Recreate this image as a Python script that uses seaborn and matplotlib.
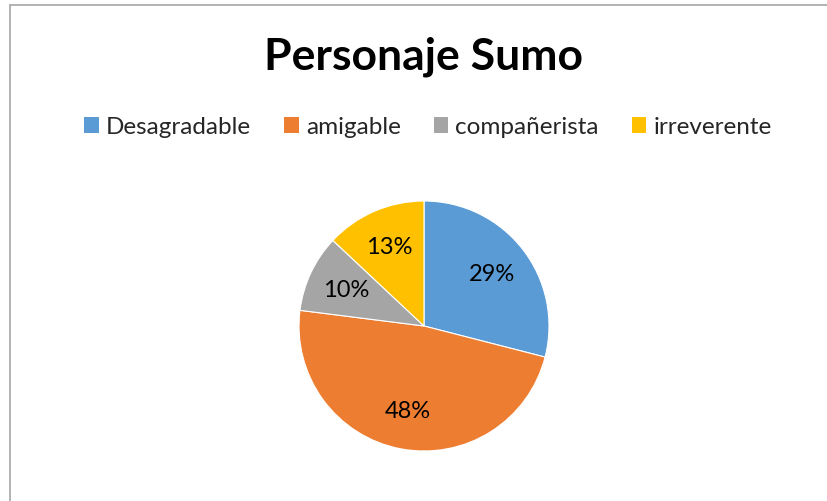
import matplotlib
matplotlib.use("Agg")
import matplotlib.pyplot as plt
import seaborn as sns
from matplotlib.lines import Line2D
from matplotlib.patches import Patch

categorias = ['Desagradable', 'amigable', 'compañerista', 'irreverente']
valores = [29, 48, 10, 13]
colores = ['#5B9BD5', '#ED7D31', '#A5A5A5', '#FFC000']

sns.set_theme(style='white')
plt.rcParams['font.family'] = ['Lato', 'DejaVu Sans']

W, H = 828, 502
fig = plt.figure(figsize=(W / 100, H / 100), dpi=100)
fig.patch.set_facecolor('white')

# pie: center (424, 327), radius 125 px
cx, cy, r = 424, 327, 125
ax = fig.add_axes([(cx - r) / W, (H - cy - r) / H, 2 * r / W, 2 * r / H])
wedges, texts, autotexts = ax.pie(
    valores, colors=colores, startangle=90, counterclock=False,
    autopct='%.0f%%', pctdistance=0.69,
    wedgeprops=dict(linewidth=0.8, edgecolor='white'),
    textprops=dict(fontsize=17, color='#000000'),
)
ax.set_xlim(-1, 1)
ax.set_ylim(-1, 1)
ax.set_aspect('equal')
ax.axis('off')

fig.text(423 / W, 1 - 57 / H, 'Personaje Sumo', ha='center', va='center',
         fontsize=32, fontweight='bold', color='#000000')

handles = [Patch(facecolor=c, edgecolor='none') for c in colores]
fig.legend(handles, categorias, loc='center', bbox_to_anchor=(428 / W, 1 - 128 / H),
           ncol=4, frameon=False, fontsize=17.5, handlelength=0.6, handleheight=0.6,
           handletextpad=0.3, columnspacing=1.35)

# chart area border (left and top only visible)
fig.add_artist(Line2D([9.5 / W, 9.5 / W], [0, 1 - 5.5 / H], transform=fig.transFigure,
                      color='#A6A6A6', linewidth=1.2))
fig.add_artist(Line2D([9.5 / W, 1], [1 - 5.5 / H, 1 - 5.5 / H], transform=fig.transFigure,
                      color='#A6A6A6', linewidth=1.2))

fig.savefig('out.png', dpi=100, facecolor='white')
